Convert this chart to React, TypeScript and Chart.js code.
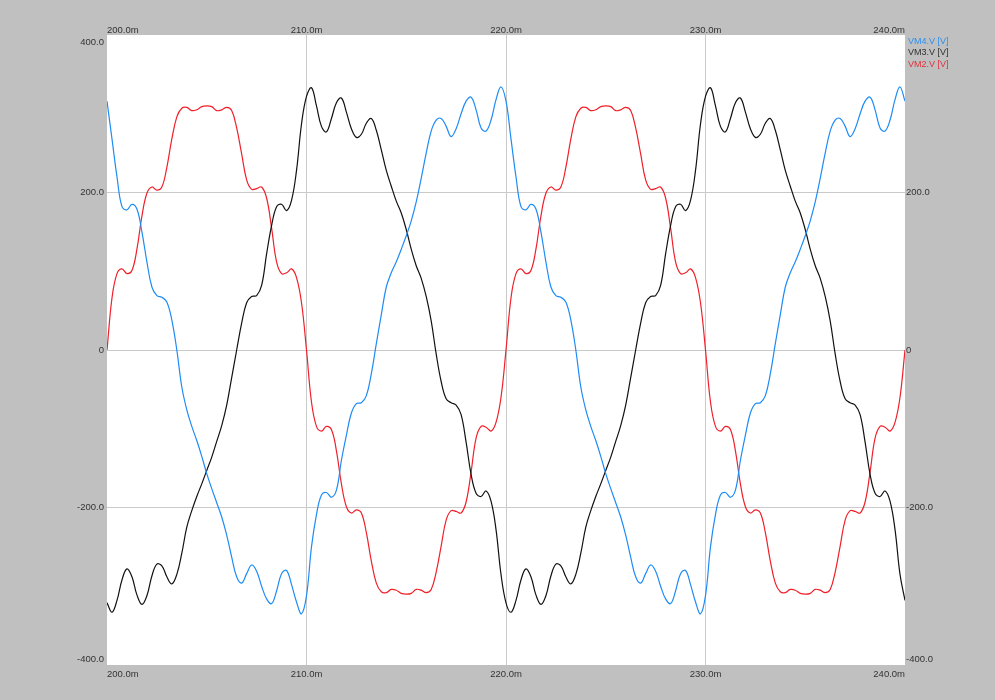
import { useEffect, useRef } from 'react';
import { Chart, registerables } from 'chart.js';

Chart.register(...registerables);

// Sample grid (ms): 200.00 ms to 240.00 ms every 0.25 ms
const T_START = 200;
const T_STEP = 0.25;

const xTickValues = [200, 210, 220, 230, 240];
const yTickValues = [-400, -200, 0, 200, 400];
const seriesNames = ['VM4.V [V]', 'VM3.V [V]', 'VM2.V [V]'];
const seriesColors = ['#1e8cf5', '#111111', '#f0202a'];
const legendColors = ['#2f8fef', '#303030', '#e0303a'];

// VM4 (blue)
const vm4 = [
  316, 268, 220, 182, 178, 185, 179, 150, 112, 80,
  69, 67, 61, 38, 0, -47, -76, -97, -115, -135,
  -157, -176, -194, -212, -235, -263, -288, -296, -284, -273,
  -281, -300, -316, -322, -306, -284, -280, -298, -320, -335,
  -312, -250, -209, -184, -181, -187, -178, -140, -108, -80,
  -68, -67, -58, -30, 8, 45, 80, 98, 112, 128,
  145, 164, 188, 218, 250, 278, 292, 294, 284, 271,
  281, 300, 316, 321, 305, 282, 278, 292, 318, 334,
  316, 268, 220, 182, 178, 185, 179, 150, 112, 80,
  69, 67, 61, 38, 0, -47, -76, -97, -115, -135,
  -157, -176, -194, -212, -235, -263, -288, -296, -284, -273,
  -281, -300, -316, -322, -306, -284, -280, -298, -320, -335,
  -312, -250, -209, -184, -181, -187, -178, -140, -108, -80,
  -68, -67, -58, -30, 8, 45, 80, 98, 112, 128,
  145, 164, 188, 218, 250, 278, 292, 294, 284, 271,
  281, 300, 316, 321, 305, 282, 278, 292, 318, 334,
  316,
];

// VM3 (black)
const vm3 = [
  -321, -333, -318, -292, -278, -288, -311, -323, -312, -287,
  -272, -274, -288, -297, -285, -258, -225, -204, -186, -170,
  -153, -136, -116, -96, -70, -35, 0, 34, 60, 68,
  69, 82, 122, 158, 182, 185, 177, 190, 228, 287,
  322, 333, 310, 284, 277, 294, 314, 320, 302, 281,
  270, 274, 288, 294, 279, 254, 228, 208, 189, 174,
  153, 128, 107, 91, 68, 37, -5, -40, -62, -67,
  -70, -82, -117, -158, -182, -186, -179, -192, -228, -285,
  -321, -333, -318, -292, -278, -288, -311, -323, -312, -287,
  -272, -274, -288, -297, -285, -258, -225, -204, -186, -170,
  -153, -136, -116, -96, -70, -35, 0, 34, 60, 68,
  69, 82, 122, 158, 182, 185, 177, 190, 228, 287,
  322, 333, 310, 284, 277, 294, 314, 320, 302, 281,
  270, 274, 288, 294, 279, 254, 228, 208, 189, 174,
  153, 128, 107, 91, 68, 37, -5, -40, -62, -67,
  -70, -82, -117, -158, -182, -186, -179, -192, -228, -285,
  -318,
];

// VM2 (red)
const vm2 = [
  0, 66, 97, 103, 97, 101, 128, 170, 199, 207,
  203, 207, 232, 268, 296, 307, 308, 304, 305, 309,
  310, 309, 304, 305, 308, 304, 282, 249, 216, 204,
  205, 207, 193, 155, 112, 97, 98, 103, 92, 60,
  0, -66, -97, -103, -97, -101, -128, -170, -199, -207,
  -203, -207, -232, -268, -296, -307, -308, -304, -305, -309,
  -310, -309, -304, -305, -308, -304, -282, -249, -216, -204,
  -205, -207, -193, -155, -112, -97, -98, -103, -92, -60,
  0, 66, 97, 103, 97, 101, 128, 170, 199, 207,
  203, 207, 232, 268, 296, 307, 308, 304, 305, 309,
  310, 309, 304, 305, 308, 304, 282, 249, 216, 204,
  205, 207, 193, 155, 112, 97, 98, 103, 92, 60,
  0, -66, -97, -103, -97, -101, -128, -170, -199, -207,
  -203, -207, -232, -268, -296, -307, -308, -304, -305, -309,
  -310, -309, -304, -305, -308, -304, -282, -249, -216, -204,
  -205, -207, -193, -155, -112, -97, -98, -103, -92, -60,
  0,
];

const FONT_FAMILY = '"Liberation Sans", Arial, Helvetica, sans-serif';
const TICK_COLOR = '#333333';
const GRID_COLOR = '#cacaca';

function toPoints(values: number[]) {
  return values.map((v, i) => ({ x: T_START + i * T_STEP, y: v }));
}

function fmtX(v: number) {
  return v.toFixed(1) + 'm';
}

function fmtY(v: number, right: boolean): string | string[] {
  if (v === 400) return right ? '' : ['', '', '', '400.0'];
  if (v === -400) return ['-400.0', '', ''];
  if (v === 0) return '0';
  return v.toFixed(1);
}

const edgeGrid = (min: number, max: number) => (ctx: any) => {
  const val = ctx.tick ? ctx.tick.value : null;
  return val === min || val === max ? 'rgba(0,0,0,0)' : GRID_COLOR;
};

const bgPlugin = {
  id: 'bgPlugin',
  beforeDraw(chart: any) {
    const { ctx, width, height, chartArea } = chart;
    ctx.save();
    ctx.fillStyle = '#c0c0c0';
    ctx.fillRect(0, 0, width, height);
    ctx.fillStyle = '#ffffff';
    ctx.fillRect(chartArea.left, chartArea.top, chartArea.right - chartArea.left, chartArea.bottom - chartArea.top);
    ctx.restore();
  },
  afterDraw(chart: any) {
    const { ctx, chartArea } = chart;
    ctx.save();
    ctx.font = '9px ' + FONT_FAMILY;
    ctx.textAlign = 'left';
    ctx.textBaseline = 'middle';
    seriesNames.forEach((name, i) => {
      ctx.fillStyle = legendColors[i];
      ctx.fillText(name, chartArea.right + 3, chartArea.top + 6.5 + i * 11.5);
    });
    ctx.restore();
  },
};

export default function App() {
  const canvasRef = useRef<HTMLCanvasElement | null>(null);

  useEffect(() => {
    if (!canvasRef.current) return;
    const tickFontY = { family: FONT_FAMILY, size: 9.5, lineHeight: 0.55 };
    const tickFontX = { family: FONT_FAMILY, size: 9.5, lineHeight: 1 };
    const chart = new Chart(canvasRef.current, {
      type: 'line',
      data: {
        datasets: [
          { label: seriesNames[0], data: toPoints(vm4), borderColor: seriesColors[0], borderWidth: 1.2, pointRadius: 0, tension: 0.4, fill: false },
          { label: seriesNames[1], data: toPoints(vm3), borderColor: seriesColors[1], borderWidth: 1.2, pointRadius: 0, tension: 0.4, fill: false },
          { label: seriesNames[2], data: toPoints(vm2), borderColor: seriesColors[2], borderWidth: 1.2, pointRadius: 0, tension: 0.4, fill: false },
        ],
      },
      options: {
        animation: false,
        responsive: false,
        devicePixelRatio: 1,
        layout: { padding: 0 },
        plugins: { legend: { display: false }, tooltip: { enabled: false } },
        scales: {
          x: {
            type: 'linear',
            position: 'bottom',
            min: 200,
            max: 240,
            afterBuildTicks: (s: any) => { s.ticks = xTickValues.map((v) => ({ value: v })); },
            afterFit: (s: any) => { s.height = 35; },
            grid: { color: edgeGrid(200, 240), drawTicks: false, lineWidth: 1 },
            border: { display: false },
            ticks: { align: 'inner', padding: 5, color: TICK_COLOR, font: tickFontX, callback: (v: any) => fmtX(Number(v)), autoSkip: false, maxRotation: 0 },
          },
          x2: {
            type: 'linear',
            position: 'top',
            min: 200,
            max: 240,
            afterBuildTicks: (s: any) => { s.ticks = xTickValues.map((v) => ({ value: v })); },
            afterFit: (s: any) => { s.height = 35; },
            grid: { display: false, drawTicks: false },
            border: { display: false },
            ticks: { align: 'inner', padding: 0, color: TICK_COLOR, font: tickFontX, callback: (v: any) => fmtX(Number(v)), autoSkip: false, maxRotation: 0 },
          },
          y: {
            type: 'linear',
            position: 'left',
            min: -400,
            max: 400,
            afterBuildTicks: (s: any) => { s.ticks = yTickValues.map((v) => ({ value: v })); },
            afterFit: (s: any) => { s.width = 107; },
            grid: { color: edgeGrid(-400, 400), drawTicks: false, lineWidth: 1 },
            border: { display: false },
            ticks: { padding: 3, color: TICK_COLOR, font: tickFontY, callback: (v: any) => fmtY(Number(v), false), autoSkip: false },
          },
          y2: {
            type: 'linear',
            position: 'right',
            min: -400,
            max: 400,
            afterBuildTicks: (s: any) => { s.ticks = yTickValues.map((v) => ({ value: v })); },
            afterFit: (s: any) => { s.width = 90; },
            grid: { display: false, drawTicks: false },
            border: { display: false },
            ticks: { padding: 1, color: TICK_COLOR, font: tickFontY, callback: (v: any) => fmtY(Number(v), true), autoSkip: false },
          },
        },
      },
      plugins: [bgPlugin],
    } as any);
    return () => chart.destroy();
  }, []);

  return (
    <div style={{ position: 'fixed', left: 0, top: 0, width: 995, height: 700, background: '#c0c0c0' }}>
      <canvas ref={canvasRef} width={995} height={700} style={{ display: 'block', width: 995, height: 700 }} />
    </div>
  );
}
